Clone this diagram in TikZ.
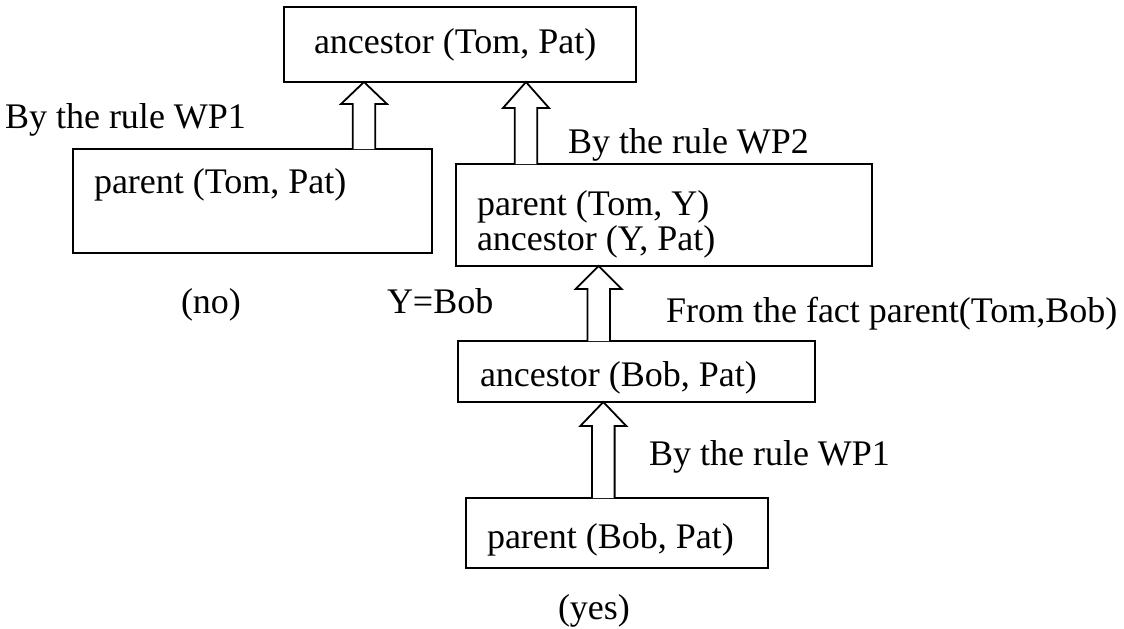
\documentclass[tikz,border=0pt]{standalone}
\usepackage{fontspec}
\setmainfont{Liberation Serif}
\usetikzlibrary{calc}

% hollow upward block arrow: #1 = x position, #2 = lower node, #3 = upper node, #4 = head length
\newcommand\proofarrow[4]{%
  \coordinate (ab) at (#1,0 |- #2.north);
  \coordinate (at) at (#1,0 |- #3.south);
  \draw[blockarrow] ($(ab)+(-11.3,0)$) -- ($(at)+(-11.3,#4)$) -- ($(at)+(-23,#4)$)
    -- (at) -- ($(at)+(23,#4)$) -- ($(at)+(11.3,#4)$) -- ($(ab)+(11.3,0)$);
}

\begin{document}
\begin{tikzpicture}[x=0.5pt,y=-0.5pt,
  every node/.style={font=\fontsize{18pt}{21pt}\selectfont, inner sep=0pt, outer sep=0pt},
  goalbox/.style={draw, line width=0.9pt, anchor=north west},
  lbl/.style={anchor=base west},
  blockarrow/.style={draw, line width=0.9pt, line join=miter, fill=white}]
\useasboundingbox (0,0) rectangle (1124,628);

% goal boxes
\node[goalbox, minimum width=176pt, minimum height=37.5pt] (b1) at (284,7) {};
\node[goalbox, minimum width=179.5pt, minimum height=52pt] (b2) at (73,149) {};
\node[goalbox, minimum width=208pt, minimum height=51pt] (b3) at (456,164) {};
\node[goalbox, minimum width=178.5pt, minimum height=30.5pt] (b4) at (458,341) {};
\node[goalbox, minimum width=151pt, minimum height=35pt] (b5) at (466,498) {};

% goals
\node[lbl] (t1) at (314,53) {ancestor (Tom, Pat)};
\node[lbl] (t2) at (94,193) {parent (Tom, Pat)};
\node[lbl] (t3a) at (477,215) {parent (Tom, Y)};
\node[lbl] (t3b) at (477,250) {ancestor (Y, Pat)};
\node[lbl] (t4) at (480,386) {ancestor (Bob, Pat)};
\node[lbl] (t5) at (487,548) {parent (Bob, Pat)};

% annotations
\node[lbl] (r1) at (5,128) {By the rule WP1};
\node[lbl] (r2) at (568,153) {By the rule WP2};
\node[lbl] (no) at (181,313) {(no)};
\node[lbl] (sub) at (387,313) {Y=Bob};
\node[lbl] (fact) at (666,322) {From the fact parent(Tom,Bob)};
\node[lbl] (r3) at (649,465) {By the rule WP1};
\node[lbl] (yes) at (558,619) {(yes)};

% derivation steps
\proofarrow{364}{b2}{b1}{22}
\proofarrow{526}{b3}{b1}{26}
\proofarrow{598.7}{b4}{b3}{23}
\proofarrow{603.3}{b5}{b4}{24}
\end{tikzpicture}
\end{document}
